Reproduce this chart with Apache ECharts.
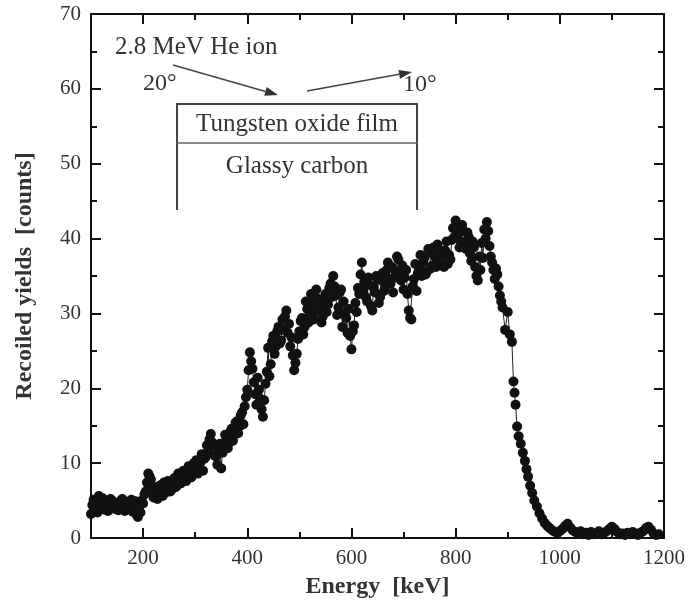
<!DOCTYPE html>
<html>
<head>
<meta charset="utf-8">
<script src="https://cdn.jsdelivr.net/npm/echarts@6/dist/echarts.min.js"></script>
<style>
  html, body { margin: 0; padding: 0; background: #fff; }
  #chart { width: 693px; height: 605px; }
</style>
</head>
<body>
<div id="chart"></div>
<script>
// energy channels [keV]
const energies = [
  100, 102.5, 105, 107.5, 110, 112.5, 115, 117.5, 120, 122.5, 125, 127.5, 130, 132.5, 135, 137.5, 140, 142.5, 145, 147.5,
  150, 152.5, 155, 157.5, 160, 162.5, 165, 167.5, 170, 172.5, 175, 177.5, 180, 182.5, 185, 187.5, 190, 192.5, 195, 197.5,
  200, 202.5, 205, 207.5, 210, 212.5, 215, 217.5, 220, 222.5, 225, 227.5, 230, 232.5, 235, 237.5, 240, 242.5, 245, 247.5,
  250, 252.5, 255, 257.5, 260, 262.5, 265, 267.5, 270, 272.5, 275, 277.5, 280, 282.5, 285, 287.5, 290, 292.5, 295, 297.5,
  300, 302.5, 305, 307.5, 310, 312.5, 315, 317.5, 320, 322.5, 325, 327.5, 330, 332.5, 335, 337.5, 340, 342.5, 345, 347.5,
  350, 352.5, 355, 357.5, 360, 362.5, 365, 367.5, 370, 372.5, 375, 377.5, 380, 382.5, 385, 387.5, 390, 392.5, 395, 397.5,
  400, 402.5, 405, 407.5, 410, 412.5, 415, 417.5, 420, 422.5, 425, 427.5, 430, 432.5, 435, 437.5, 440, 442.5, 445, 447.5,
  450, 452.5, 455, 457.5, 460, 462.5, 465, 467.5, 470, 472.5, 475, 477.5, 480, 482.5, 485, 487.5, 490, 492.5, 495, 497.5,
  500, 502.5, 505, 507.5, 510, 512.5, 515, 517.5, 520, 522.5, 525, 527.5, 530, 532.5, 535, 537.5, 540, 542.5, 545, 547.5,
  550, 552.5, 555, 557.5, 560, 562.5, 565, 567.5, 570, 572.5, 575, 577.5, 580, 582.5, 585, 587.5, 590, 592.5, 595, 597.5,
  600, 602.5, 605, 607.5, 610, 612.5, 615, 617.5, 620, 622.5, 625, 627.5, 630, 632.5, 635, 637.5, 640, 642.5, 645, 647.5,
  650, 652.5, 655, 657.5, 660, 662.5, 665, 667.5, 670, 672.5, 675, 677.5, 680, 682.5, 685, 687.5, 690, 692.5, 695, 697.5,
  700, 702.5, 705, 707.5, 710, 712.5, 715, 717.5, 720, 722.5, 725, 727.5, 730, 732.5, 735, 737.5, 740, 742.5, 745, 747.5,
  750, 752.5, 755, 757.5, 760, 762.5, 765, 767.5, 770, 772.5, 775, 777.5, 780, 782.5, 785, 787.5, 790, 792.5, 795, 797.5,
  800, 802.5, 805, 807.5, 810, 812.5, 815, 817.5, 820, 822.5, 825, 827.5, 830, 832.5, 835, 837.5, 840, 842.5, 845, 847.5,
  850, 852.5, 855, 857.5, 860, 862.5, 865, 867.5, 870, 872.5, 875, 877.5, 880, 882.5, 885, 887.5, 890,
  895, 900, 904, 908, 911, 913, 915, 918, 921, 925,
  929, 933, 936, 939, 943, 947, 951, 956, 961, 966,
  971, 976, 981, 986, 991, 996,
  1000, 1005, 1010, 1015, 1020, 1025, 1030, 1035, 1040, 1045,
  1050, 1055, 1060, 1065, 1070, 1075, 1080, 1085, 1090, 1095,
  1100, 1105, 1110, 1115, 1120, 1125, 1130, 1135, 1140, 1145,
  1150, 1155, 1160, 1165, 1170, 1175, 1180, 1185, 1190
]

// recoiled yields [counts]
const yields = [
  3.2, 4.4, 5.1, 4.6, 4.0, 3.4, 5.6, 4.8, 4.4, 5.3, 3.8, 4.5, 4.9, 3.6, 4.2, 5.2, 5.0, 4.4, 3.9, 4.7,
  4.6, 3.7, 4.1, 5.0, 5.2, 4.4, 3.6, 4.2, 4.8, 3.9, 4.3, 5.1, 3.5, 4.0, 4.9, 3.1, 2.8, 4.2, 3.4, 5.0,
  4.6, 5.8, 6.2, 7.4, 8.6, 8.2, 7.8, 6.4, 5.4, 6.0, 6.8, 5.2, 5.9, 7.0, 6.6, 5.6, 7.4, 6.9, 6.1, 7.6,
  7.2, 6.2, 6.5, 7.6, 8.0, 6.8, 7.0, 8.6, 8.3, 7.3, 7.6, 9.0, 8.8, 7.6, 7.9, 9.6, 9.2, 8.1, 8.4, 10.0,
  9.4, 10.4, 8.6, 9.8, 10.1, 11.2, 9.0, 10.6, 10.8, 12.4, 11.6, 13.2, 13.9, 12.8, 12.4, 11.0, 10.9, 9.8, 11.8, 12.6,
  9.3, 11.4, 12.2, 13.8, 13.4, 12.0, 12.7, 14.2, 14.6, 13.0, 13.8, 15.4, 15.6, 14.0, 14.9, 16.4, 16.8, 15.2, 17.6, 18.8,
  19.8, 22.4, 24.8, 23.6, 22.6, 20.8, 19.2, 17.8, 21.4, 19.8, 18.6, 17.2, 16.2, 18.4, 20.6, 22.2, 25.4, 21.6, 23.2, 26.2,
  27.0, 24.6, 25.6, 27.6, 28.2, 26.0, 26.4, 29.2, 27.8, 29.6, 30.4, 27.4, 28.6, 25.6, 26.8, 24.4, 22.4, 23.4, 24.6, 26.6,
  27.6, 29.0, 29.4, 27.2, 28.2, 31.6, 30.6, 28.8, 29.8, 32.6, 31.4, 29.2, 30.2, 33.2, 32.0, 30.4, 30.8, 28.8, 29.6, 31.8,
  32.6, 30.2, 31.2, 33.4, 34.0, 32.2, 35.0, 33.6, 32.4, 29.8, 30.8, 32.8, 33.2, 28.2, 31.6, 30.0, 29.4, 27.4, 30.6, 27.0,
  25.2, 27.6, 28.4, 31.4, 30.2, 33.4, 32.6, 35.2, 36.8, 33.0, 34.2, 32.2, 31.6, 34.8, 33.8, 31.0, 30.4, 33.6, 32.8, 35.0,
  34.6, 31.4, 32.2, 34.4, 35.4, 33.0, 33.6, 35.8, 36.8, 34.6, 34.0, 36.2, 32.8, 34.8, 35.6, 37.6, 37.2, 35.4, 34.4, 36.4,
  33.2, 34.8, 35.8, 32.6, 30.4, 29.4, 29.2, 33.6, 34.6, 36.6, 33.0, 35.4, 36.2, 37.8, 35.0, 36.8, 37.4, 35.2, 35.6, 38.6,
  38.2, 36.0, 36.4, 38.8, 37.6, 36.2, 39.2, 37.4, 36.8, 38.4, 37.8, 36.2, 38.4, 39.6, 36.6, 37.8, 37.2, 39.8, 41.4, 40.2,
  42.4, 41.2, 40.6, 38.8, 39.6, 41.8, 41.0, 39.4, 38.6, 40.8, 40.2, 38.0, 37.0, 39.6, 38.8, 36.2, 35.0, 34.4, 37.6, 35.8,
  39.4, 37.4, 41.2, 40.0, 42.2, 41.0, 39.0, 37.6, 36.8, 35.8, 34.6, 36.0, 35.2, 33.6, 32.4, 31.6, 30.8,
  27.8, 30.2, 27.2, 26.2, 20.9, 19.4, 17.8, 14.9, 13.6, 12.6,
  11.4, 10.3, 9.2, 8.2, 7.0, 6.0, 5.0, 4.2, 3.3, 2.6,
  2.0, 1.6, 1.3, 1.0, 0.8, 0.7,
  0.9, 1.2, 1.6, 1.9, 1.4, 1.0, 0.8, 0.6, 0.9, 0.5,
  0.7, 0.4, 0.8, 0.5, 0.6, 0.9, 0.5, 0.7, 0.9, 1.2,
  1.5, 1.2, 0.8, 0.5, 0.6, 0.4, 0.7, 0.5, 0.8, 0.6,
  0.4, 0.7, 0.9, 1.3, 1.5, 1.1, 0.6, 0.4, 0.5
]

const xMajorTicks = [200, 400, 600, 800, 1000, 1200]
const xMinorTicks = [300, 500, 700, 900, 1100]

const serif = '"Liberation Serif", "Times New Roman", serif'
const ink = '#111'

// x axes: bottom/top, each split in a major and a minor tick axis
const xAxisBase = (position, ticks, len, showLine, showLabel) => ({
  type: 'value',
  position,
  min: 100,
  max: 1200,
  axisLine: { show: showLine, onZero: false, lineStyle: { color: ink, width: 2 } },
  axisTick: { show: true, inside: true, length: len, customValues: ticks, lineStyle: { color: ink, width: 2 } },
  axisLabel: {
    show: showLabel,
    customValues: ticks,
    formatter: v => String(v),
    margin: 10,
    color: '#333',
    fontFamily: serif,
    fontSize: 21,
  },
  splitLine: { show: false },
})

const yAxisBase = (position, showLabel) => ({
  type: 'value',
  position,
  min: 0,
  max: 70,
  interval: 10,
  axisLine: { show: true, onZero: false, lineStyle: { color: ink, width: 2 } },
  axisTick: { show: true, inside: true, length: 10, lineStyle: { color: ink, width: 2 } },
  minorTick: { show: true, splitNumber: 2, length: 6, lineStyle: { color: ink, width: 2 } },
  axisLabel: { show: showLabel, margin: 10, color: '#333', fontFamily: serif, fontSize: 21 },
  splitLine: { show: false },
  minorSplitLine: { show: false },
})

// arrow made of a line plus a small triangle head
const arrow = (x1, y1, x2, y2) => {
  const dx = x2 - x1
  const dy = y2 - y1
  const l = Math.sqrt(dx * dx + dy * dy)
  const ux = dx / l
  const uy = dy / l
  const bx = x2 - ux * 13
  const by = y2 - uy * 13
  return [{
    type: 'line',
    shape: { x1, y1, x2: bx, y2: by },
    style: { stroke: '#444', lineWidth: 1.5 },
  }, {
    type: 'polygon',
    shape: { points: [[x2, y2], [bx - uy * 4.5, by + ux * 4.5], [bx + uy * 4.5, by - ux * 4.5]] },
    style: { fill: '#333' },
  }]
}

const label = (text, x, y, align, size) => ({
  type: 'text',
  x,
  y,
  style: {
    text,
    fill: '#333',
    font: (size || 25) + 'px ' + serif,
    align: align || 'center',
    verticalAlign: 'middle',
  },
})

const chart = echarts.init(document.getElementById('chart'))

chart.setOption({
  animation: false,
  backgroundColor: '#fff',
  grid: { left: 91, right: 29, top: 14, bottom: 67 },
  xAxis: [
    Object.assign(xAxisBase('bottom', xMajorTicks, 10, true, true), {
      name: 'Energy  [keV]',
      nameLocation: 'middle',
      nameGap: 37,
      nameTextStyle: { fontFamily: serif, fontSize: 24, fontWeight: 'bold', color: '#333' },
    }),
    xAxisBase('bottom', xMinorTicks, 6, false, false),
    xAxisBase('top', xMajorTicks, 10, true, false),
    xAxisBase('top', xMinorTicks, 6, false, false),
  ],
  yAxis: [
    Object.assign(yAxisBase('left', true), {
      name: 'Recoiled yields  [counts]',
      nameLocation: 'middle',
      nameGap: 54,
      nameTextStyle: { fontFamily: serif, fontSize: 24, fontWeight: 'bold', color: '#333' },
    }),
    yAxisBase('right', false),
  ],
  series: [{
    type: 'line',
    data: energies.map((e, i) => [e, yields[i]]),
    showAllSymbol: true,
    symbol: 'circle',
    symbolSize: 10,
    itemStyle: { color: ink },
    lineStyle: { color: '#222', width: 1 },
  }],
  graphic: [
    label('2.8 MeV He ion', 115, 47, 'left'),
    label('20°', 143, 84, 'left', 24),
    label('10°', 403, 85, 'left', 24),
    ...arrow(173, 65, 278, 95),
    ...arrow(307, 91, 412, 72),
    // sample sketch: film on substrate
    {
      type: 'polyline',
      shape: { points: [[177, 210], [177, 104], [417, 104], [417, 210]] },
      style: { stroke: '#444', lineWidth: 2, fill: null },
    },
    {
      type: 'line',
      shape: { x1: 177, y1: 143, x2: 417, y2: 143 },
      style: { stroke: '#666', lineWidth: 1.5 },
    },
    label('Tungsten oxide film', 297, 124),
    label('Glassy carbon', 297, 166),
  ],
})
</script>
</body>
</html>
